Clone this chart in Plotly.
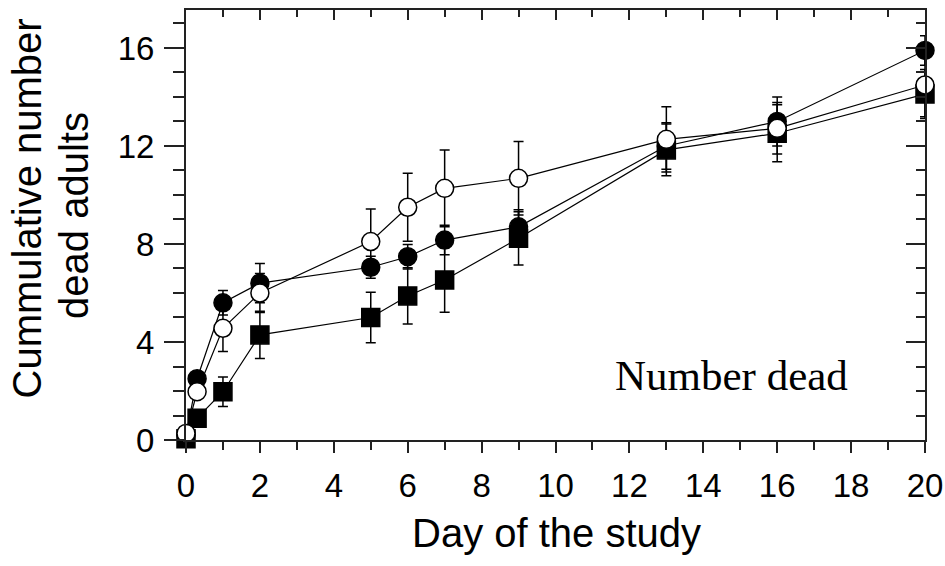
import plotly.graph_objects as go

days = [0, 0.3, 1, 2, 5, 6, 7, 9, 13, 16, 20]

filled_circle = [0.2, 2.5, 5.6, 6.4, 7.05, 7.48, 8.16, 8.7, 12.0, 13.0, 15.9]
filled_circle_err = [0.1, 0.3, 0.5, 0.8, 0.45, 0.5, 0.6, 0.7, 0.95, 1.0, 0.6]

open_circle = [0.27, 1.97, 4.56, 6.0, 8.1, 9.5, 10.27, 10.68, 12.27, 12.72, 14.49]
open_circle_err = [0.1, 0.3, 0.95, 0.8, 1.33, 1.39, 1.57, 1.5, 1.33, 1.05, 1.3]

square = [0.05, 0.89, 1.97, 4.29, 5.0, 5.88, 6.53, 8.23, 11.84, 12.52, 14.12]
square_err = [0.1, 0.3, 0.6, 0.96, 1.03, 1.15, 1.32, 1.09, 1.06, 1.16, 1.0]

x_ticks = list(range(0, 21, 2))
y_ticks = [0, 4, 8, 12, 16]

y_title_lines = ["Cummulative number", "dead adults"]
x_title = "Day of the study"
panel_label = "Number dead"

AX = "#222222"
FONT = "Liberation Sans, Arial, sans-serif"

fig = go.Figure()

def add_series(y, err, symbol, fill):
    fig.add_trace(go.Scatter(
        x=days, y=y, mode="lines+markers",
        line=dict(color="black", width=1.2),
        marker=dict(symbol=symbol, size=18, color=fill,
                    line=dict(color="black", width=1.5)),
        error_y=dict(type="data", array=err, visible=True,
                     color="black", thickness=1.5, width=5),
        cliponaxis=False, showlegend=False,
    ))

add_series(square, square_err, "square", "black")
add_series(filled_circle, filled_circle_err, "circle", "black")
add_series(open_circle, open_circle_err, "circle", "white")

# dummy trace to activate mirrored axes
fig.add_trace(go.Scatter(x=[None], y=[None], xaxis="x2", yaxis="y2",
                         showlegend=False, hoverinfo="skip"))

fig.update_layout(
    width=945, height=566,
    margin=dict(l=186, r=20, t=10, b=126, autoexpand=False),
    paper_bgcolor="white", plot_bgcolor="white",
    font=dict(family=FONT, color="black"),
    xaxis=dict(
        range=[0, 20], tickvals=x_ticks, ticks="outside", ticklen=11,
        tickwidth=2, tickcolor=AX, showline=True, linewidth=2, linecolor=AX,
        showgrid=False, zeroline=False, automargin=False,
        ticklabelstandoff=4,
        tickfont=dict(size=33, family=FONT),
        minor=dict(dtick=1, tick0=0, ticks="outside", ticklen=8,
                   tickwidth=2, tickcolor=AX, showgrid=False),
    ),
    yaxis=dict(
        range=[0, 17.55], tickvals=y_ticks, ticks="outside", ticklen=20,
        tickwidth=2, tickcolor=AX, showline=True, linewidth=2, linecolor=AX,
        showgrid=False, zeroline=False, automargin=False,
        ticklabelstandoff=3,
        tickfont=dict(size=33, family=FONT),
        minor=dict(dtick=1, tick0=0, ticks="outside", ticklen=11,
                   tickwidth=2, tickcolor=AX, showgrid=False),
    ),
    xaxis2=dict(
        overlaying="x", side="top", anchor="y", range=[0, 20],
        tickvals=x_ticks, ticks="inside", ticklen=10, tickwidth=2,
        tickcolor=AX, showline=True, linewidth=2, linecolor=AX,
        showgrid=False, zeroline=False, showticklabels=False, automargin=False,
        minor=dict(dtick=1, tick0=0, ticks="inside", ticklen=7,
                   tickwidth=2, tickcolor=AX, showgrid=False),
    ),
    yaxis2=dict(
        overlaying="y", side="right", anchor="x", range=[0, 17.55],
        tickvals=y_ticks, ticks="inside", ticklen=19, tickwidth=2,
        tickcolor=AX, showline=True, linewidth=2, linecolor=AX,
        showgrid=False, zeroline=False, showticklabels=False, automargin=False,
        minor=dict(dtick=1, tick0=0, ticks="inside", ticklen=9,
                   tickwidth=2, tickcolor=AX, showgrid=False),
    ),
    annotations=[
        dict(text=y_title_lines[0], textangle=-90,
             xref="paper", yref="paper", x=-0.2145, y=0.5395,
             xanchor="center", yanchor="middle", showarrow=False,
             font=dict(size=40, family=FONT, color="black")),
        dict(text=y_title_lines[1], textangle=-90,
             xref="paper", yref="paper", x=-0.1516, y=0.5233,
             xanchor="center", yanchor="middle", showarrow=False,
             font=dict(size=40, family=FONT, color="black")),
        dict(text=x_title, xref="paper", yref="paper",
             x=0.502, y=-0.216, xanchor="center", yanchor="middle",
             showarrow=False, font=dict(size=40, family=FONT, color="black")),
        dict(text=panel_label, xref="x", yref="y", x=14.75, y=2.65,
             xanchor="center", yanchor="middle", showarrow=False,
             font=dict(size=43, family="Liberation Serif, Times New Roman, serif",
                       color="black")),
    ],
)

fig.write_html(
    "out.html",
    config={"displayModeBar": False},
    post_script="document.body.style.margin='0';document.body.style.overflow='hidden';",
)
